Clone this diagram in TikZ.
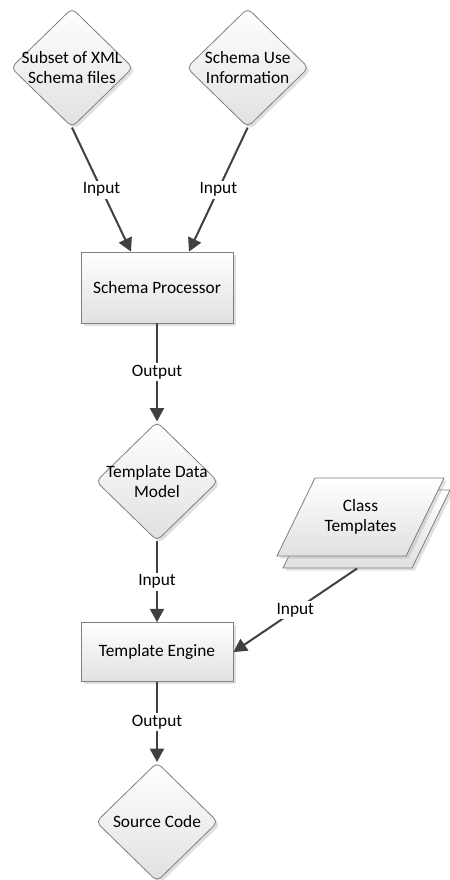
\documentclass[tikz,border=0pt]{standalone}
\usepackage{fontspec}
\setmainfont{Carlito}
\usetikzlibrary{shapes.geometric, arrows.meta, positioning, shadows}
\definecolor{edgegray}{HTML}{7F7F7F}
\definecolor{arrowgray}{HTML}{404040}

\begin{document}
\begin{tikzpicture}[x=0.75pt, y=-0.75pt,
        every node/.style={font=\fontsize{13pt}{15pt}\selectfont},
        softshadow/.style={drop shadow={shadow xshift=2pt, shadow yshift=-2pt, opacity=0.35, fill=black!35}},
        process/.style={rectangle, minimum width=114pt, draw=edgegray, line width=0.6pt, top color=white, bottom color=black!12, softshadow},
        % diamonds keep a fixed size, the text may reach the border
        data/.style={diamond, minimum width=91.5pt, minimum height=89.25pt, inner sep=-12pt, rounded corners=4pt,
            draw=edgegray, line width=0.6pt, top color=white, bottom color=black!12, align=center, softshadow},
        % fixed text box, so the sheet keeps its slant with or without text
        tmpl/.style={trapezium, trapezium left angle=64, trapezium right angle=116, inner sep=0pt,
            text width=68.25pt, text height=25pt, text depth=33.5pt, draw=edgegray, line width=0.6pt,
            top color=white, bottom color=black!12, align=center, softshadow},
        flow/.style={draw=arrowgray, line width=1.5pt, -{Triangle[length=10pt, width=10.5pt]}},
        tag/.style={fill=white, inner sep=1.5pt}
    ]
        \useasboundingbox (0,0) rectangle (449,880);

        % main chain
        \node (sp) [process, minimum height=53.25pt] at (157,287.5) {Schema Processor};
        \node (xsd) [data, above=93pt of sp, xshift=-63.75pt] {Subset of XML\\Schema files};
        \node (use) [data, above=93pt of sp, xshift=68pt] {Schema Use\\Information};
        \node (tdm) [data, below=73.5pt of sp] {Template Data\\Model};
        \node (te) [process, minimum height=44.25pt, below=60.75pt of tdm] {Template Engine};
        \node (src) [data, below=60pt of te] {Source Code};

        % stacked templates
        \node (ctb) [tmpl] at (366.5,529) {};
        \node (ct) [tmpl] at (360.5,517) {Class\\Templates};

        % connectors
        \draw[flow] (xsd.south) -- node[tag] {Input} ([xshift=-19.5pt]sp.north);
        \draw[flow] (use.south) -- node[tag] {Input} ([xshift=24pt]sp.north);
        \draw[flow] (sp.south) -- node[tag] {Output} (tdm.north);
        \draw[flow] (tdm.south) -- node[tag] {Input} (te.north);
        \draw[flow] ([xshift=-7pt]ctb.south) -- node[tag] {Input} (te.east);
        \draw[flow] (te.south) -- node[tag] {Output} (src.north);

    \end{tikzpicture}
\end{document}
